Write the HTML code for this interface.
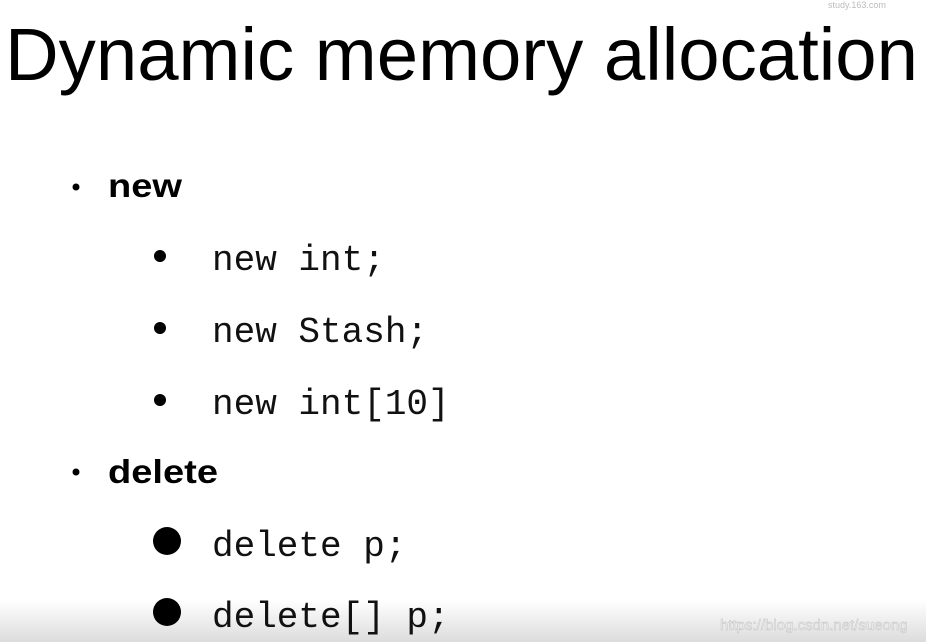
<!DOCTYPE html>
<html><head><style>
html,body{margin:0;padding:0;background:#fff;width:926px;height:642px;overflow:hidden}
</style></head><body>
<svg width="926" height="642" xmlns="http://www.w3.org/2000/svg">
<defs><linearGradient id="g" x1="0" y1="0" x2="0" y2="1"><stop offset="0" stop-color="#fff"/><stop offset="1" stop-color="#dcdcdc"/></linearGradient></defs>
<rect width="926" height="642" fill="#fff"/>
<rect y="600" width="926" height="42" fill="url(#g)"/>
<text x="5" y="80" font-family="Liberation Sans, sans-serif" font-size="74" textLength="913" lengthAdjust="spacingAndGlyphs" fill="#000">Dynamic memory allocation</text>
<text x="828" y="8" font-family="Liberation Sans, sans-serif" font-size="9" fill="#bbb">study.163.com</text>
<g font-family="Liberation Sans, sans-serif" font-weight="bold" font-size="33" fill="#000">
<circle cx="76" cy="187" r="3.5"/><text x="108" y="197" textLength="74" lengthAdjust="spacingAndGlyphs">new</text>
<circle cx="76" cy="472" r="3.5"/><text x="108" y="483" textLength="110" lengthAdjust="spacingAndGlyphs">delete</text>
</g>
<g fill="#000">
<circle cx="160" cy="256" r="6"/><circle cx="160" cy="328" r="6"/><circle cx="160" cy="400" r="6"/>
<circle cx="167" cy="541" r="14"/><circle cx="167" cy="612" r="14"/>
</g>
<g font-family="Liberation Mono, monospace" font-size="36" fill="#111">
<text x="212" y="270">new int;</text>
<text x="212" y="342">new Stash;</text>
<text x="212" y="414">new int[10]</text>
<text x="212" y="556">delete p;</text>
<text x="212" y="627">delete[] p;</text>
</g>
<text x="720" y="630" font-family="Liberation Sans, sans-serif" font-size="15" fill="#eee" stroke="#bbb" stroke-width="0.4">https://blog.csdn.net/sueong</text>
</svg>
</body></html>
